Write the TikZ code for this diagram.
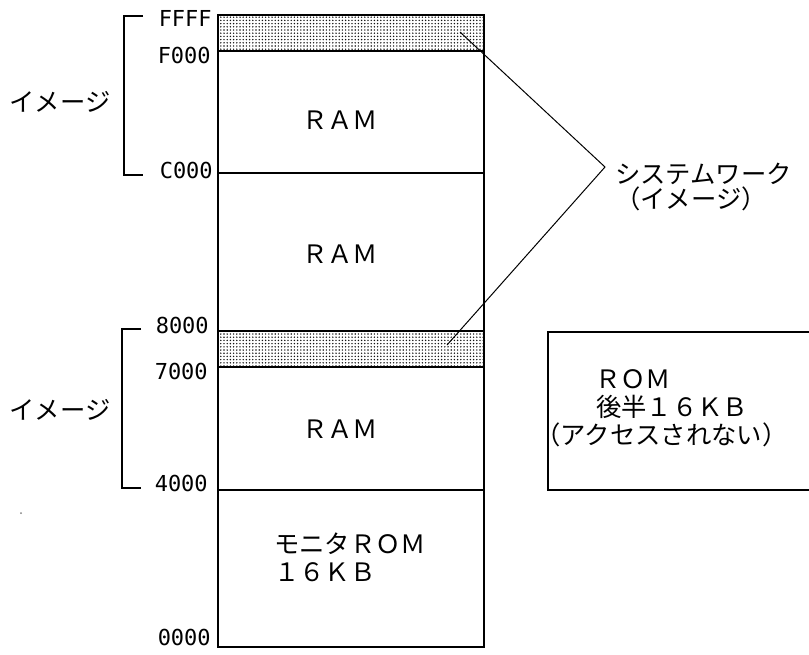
\documentclass[tikz,border=0pt]{standalone}
\usepackage{fontspec}
\setmainfont{Noto Sans CJK JP}
\newfontfamily\hexfont{DejaVu Sans Mono}
\usetikzlibrary{patterns.meta,positioning}
\definecolor{mapInk}{RGB}{0,0,0}
\definecolor{workDots}{RGB}{20,20,20}

\begin{document}
\begin{tikzpicture}[x=0.75pt, y=-0.75pt,
    every node/.style={inner sep=0pt, text=mapInk, font=\fontsize{19}{22}\selectfont},
    addr/.style={anchor=base east, font=\hexfont\fontsize{16.5}{18}\selectfont},
    jp/.style={anchor=base west},
    memline/.style={mapInk, line width=1pt},
    leader/.style={mapInk, line width=0.75pt},
    syswork/.style={pattern={Dots[distance=2.4pt, radius=0.6pt]}, pattern color=workDots}]
    \useasboundingbox (0,0) rectangle (809,654);
    \clip (0,0) rectangle (809,654);
    % memory map column, shaded system work areas first
    \fill[syswork] (218,15) rectangle (484,51);
    \fill[syswork] (218,331) rectangle (484,367);
    \draw[memline] (218,15) rectangle (484,647);
    \foreach \y in {51,173,331,367,490}{
      \draw[memline] (218,\y) -- (484,\y);}
    % addresses
    \node[addr] (aFFFF) at (212,26) {FFFF};
    \node[addr] (aF000) at (211,63) {F000};
    \node[addr] (aC000) at (213,178) {C000};
    \node[addr] (a8000) at (209,333) {8000};
    \node[addr] (a7000) at (208,379) {7000};
    \node[addr] (a4000) at (208,491) {4000};
    \node[addr] (a0000) at (211,645) {0000};
    % image brackets
    \draw[memline] (143,16) -- (124,16) -- (124,175) -- (143,175);
    \draw[memline] (141,329) -- (122,329) -- (122,488) -- (141,488);
    \node[anchor=base] (imgHi) at (60,111) {イメージ};
    \node[anchor=base] (imgLo) at (60,419) {イメージ};
    % block contents
    \node[anchor=base] (ramC) at (340,129) {ＲＡＭ};
    \node[anchor=base] (ram8) at (340,263) {ＲＡＭ};
    \node[anchor=base] (ram4) at (340,438) {ＲＡＭ};
    \node[jp] (monA) at (274,553) {モニタＲＯＭ};
    \node[jp] (monB) at (274,581) {１６ＫＢ};
    % rom upper half, not accessed
    \draw[memline] (548,332) rectangle (830,490);
    \node[jp] (romA) at (595,388) {ＲＯＭ};
    \node[jp] (romB) at (596,416) {後半１６ＫＢ};
    \node[jp] (romC) at (535,444) {（アクセスされない）};
    % system work label and leaders
    \node[jp] (sysA) at (615,183) {システムワーク};
    \node[jp] (sysB) at (615,208) {（イメージ）};
    \coordinate (wkHi) at (460,32);
    \coordinate (wkLo) at (447,345);
    \coordinate (wkTip) at (605,167);
    \draw[leader] (wkHi) -- (wkTip) -- (wkLo);
    \fill[gray] (21,513) circle (1);
\end{tikzpicture}
\end{document}
